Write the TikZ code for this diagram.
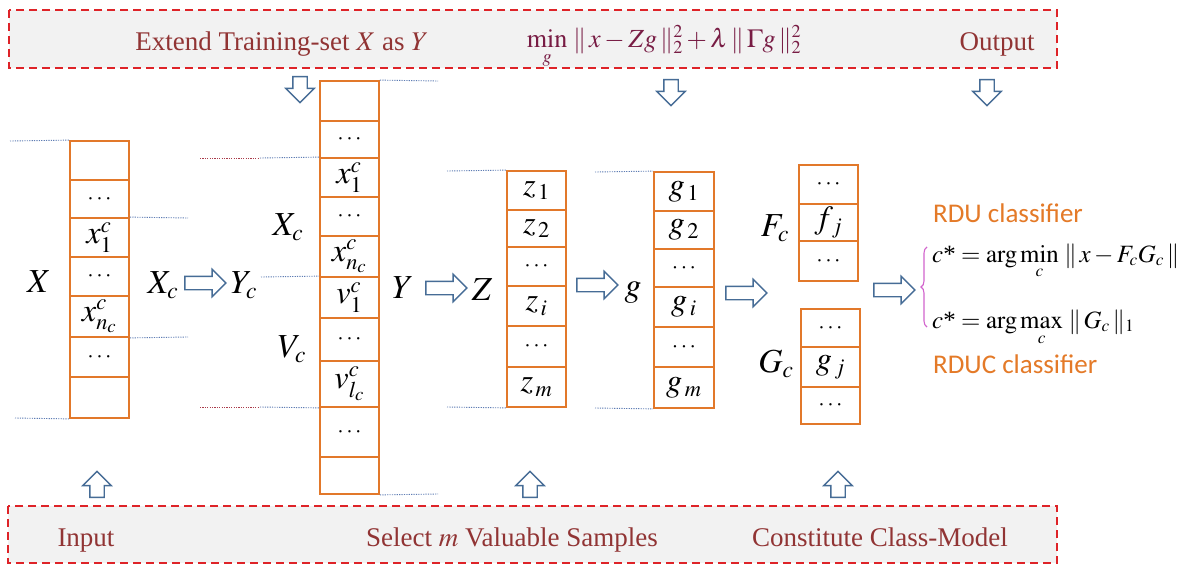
\documentclass[tikz,border=0pt]{standalone}
\usepackage{graphicx}
\usepackage{mathptmx}
\usepackage[no-math]{fontspec}
\setmainfont{Liberation Serif}
\newfontfamily\calibrifont{Carlito}
\usetikzlibrary{shapes.arrows,decorations.pathreplacing}
\definecolor{cellorange}{RGB}{226,120,42}
\definecolor{arrowblue}{RGB}{70,108,150}
\definecolor{dashred}{RGB}{222,35,40}
\definecolor{panelgray}{RGB}{242,242,242}
\definecolor{textbrown}{RGB}{145,52,52}
\definecolor{formulamaroon}{RGB}{120,28,68}
\definecolor{dotblue}{RGB}{95,125,180}
\definecolor{dotred}{RGB}{170,60,75}
\definecolor{bracemagenta}{RGB}{210,100,205}
\definecolor{clsorange}{RGB}{228,122,40}
\newcommand\mkcell[6]{%
  \pgfmathsetmacro\cellw{#4-#2}%
  \pgfmathsetmacro\cellh{#5-#3}%
  \node[cell, minimum width=\cellw pt, minimum height=\cellh pt] (#1) at ({(#2+#4)/2},{(#3+#5)/2}) {#6};%
}
\newcommand\cm[1]{\scalebox{1.3}{$#1$}}
\newcommand\cdts{{\fontsize{23}{26}\selectfont$\cdots$}}
\newcommand\lb[1]{\scalebox{1.35}{$#1$}}
\begin{document}
\begin{tikzpicture}[x=1pt,y=-1pt,
  cell/.style={draw=cellorange, line width=1.8pt, inner sep=0pt, font=\fontsize{24.88}{28}\selectfont},
  lab/.style={inner sep=0pt, font=\fontsize{24.88}{28}\selectfont},
  panel/.style={draw=dashred, fill=panelgray, line width=1.5pt, dash pattern=on 8pt off 5pt},
  paneltext/.style={inner sep=0pt, text=textbrown, font=\fontsize{27}{30}\selectfont},
  hbarrow/.style={single arrow, draw=arrowblue, fill=white, line width=1.4pt, single arrow head extend=7pt, inner sep=6pt, minimum height=41pt},
  vbarrow/.style={single arrow, draw=arrowblue, fill=white, line width=1.4pt, single arrow head extend=7pt, inner sep=6.5pt, minimum height=26pt},
  dotb/.style={draw=dotblue, line width=0.9pt, dash pattern=on 1.2pt off 1.2pt},
  dotr/.style={draw=dotred, line width=0.9pt, dash pattern=on 1.2pt off 1.2pt},
  cls/.style={inner sep=0pt, text=clsorange, font=\calibrifont\fontsize{27}{30}\selectfont},
  rform/.style={inner sep=0pt, font=\fontsize{24.88}{30}\selectfont}
]
\useasboundingbox (0,0) rectangle (1203,565);
\fill[white] (0,0) rectangle (1203,565);

% panels
\draw[panel] (9,10) rectangle (1057,68);
\draw[panel] (8,506) rectangle (1057,563);
\node[paneltext, anchor=base] (tExtend) at (282,50) {Extend Training-set $X$ as $Y$};
\node[inner sep=0pt, anchor=base, text=formulamaroon, font=\fontsize{24.88}{29}\selectfont] (tObj) at (664,47) {\scalebox{1.05}{$\min\limits_g \,\|\, x - Zg \,\|_2^2 + \lambda \,\|\, \Gamma g \,\|_2^2$}};
\node[paneltext, anchor=base] (tOut) at (997,50) {Output};
\node[paneltext, anchor=base] (tIn) at (86,546) {Input};
\node[paneltext, anchor=base] (tSel) at (512,546) {Select $m$ Valuable Samples};
\node[paneltext, anchor=base] (tCon) at (880,546) {Constitute Class-Model};

% vertical block arrows
\node[vbarrow, rotate=-90] (dA) at (300,86) {};
\node[vbarrow, rotate=-90] (dB) at (671,89) {};
\node[vbarrow, rotate=-90] (dC) at (987,89) {};
\node[vbarrow, rotate=90] (uA) at (97,488) {};
\node[vbarrow, rotate=90] (uB) at (530,488) {};
\node[vbarrow, rotate=90] (uC) at (838,488) {};

% X column
\mkcell{X1}{70}{141}{129}{180}{}
\mkcell{X2}{70}{180}{129}{218}{\cdts}
\mkcell{X3}{70}{218}{129}{257}{\cm{x_1^c}}
\mkcell{X4}{70}{257}{129}{296}{\cdts}
\mkcell{X5}{70}{296}{129}{337}{\cm{x_{n_c}^c}}
\mkcell{X6}{70}{337}{129}{377}{\cdts}
\mkcell{X7}{70}{377}{129}{418}{}

% Y column
\mkcell{Y1}{320}{81}{379}{121}{}
\mkcell{Y2}{320}{121}{379}{158}{\cdts}
\mkcell{Y3}{320}{158}{379}{197}{\cm{x_1^c}}
\mkcell{Y4}{320}{197}{379}{236}{\cdts}
\mkcell{Y5}{320}{236}{379}{277}{\cm{x_{n_c}^c}}
\mkcell{Y6}{320}{277}{379}{318}{\cm{v_1^c}}
\mkcell{Y7}{320}{318}{379}{361}{\cdts}
\mkcell{Y8}{320}{361}{379}{407}{\cm{v_{l_c}^c}}
\mkcell{Y9}{320}{407}{379}{457}{\cdts}
\mkcell{Y10}{320}{457}{379}{494}{}

% Z column
\mkcell{Z1}{507}{171}{566}{210}{\cm{z_{\,1}}}
\mkcell{Z2}{507}{210}{566}{247}{\cm{z_{\,2}}}
\mkcell{Z3}{507}{247}{566}{286}{\cdts}
\mkcell{Z4}{507}{286}{566}{326}{\cm{z_{\,i}}}
\mkcell{Z5}{507}{326}{566}{367}{\cdts}
\mkcell{Z6}{507}{367}{566}{407}{\cm{z_{\,m}}}

% g column
\mkcell{G1}{654}{172}{714}{211}{\cm{g_{\,1}}}
\mkcell{G2}{654}{211}{714}{249}{\cm{g_{\,2}}}
\mkcell{G3}{654}{249}{714}{287}{\cdts}
\mkcell{G4}{654}{287}{714}{327}{\cm{g_{\,i}}}
\mkcell{G5}{654}{327}{714}{367}{\cdts}
\mkcell{G6}{654}{367}{714}{408}{\cm{g_{\,m}}}

% F_c column
\mkcell{F1}{799}{165}{858}{204}{\cdts}
\mkcell{F2}{799}{204}{858}{241}{\cm{f_{\,j}}}
\mkcell{F3}{799}{241}{858}{281}{\cdts}

% G_c column
\mkcell{H1}{801}{309}{860}{347}{\cdts}
\mkcell{H2}{801}{347}{860}{387}{\cm{g_{\,j}}}
\mkcell{H3}{801}{387}{860}{424}{\cdts}

% dotted guide lines
\coordinate (pXa) at (10,141);
\coordinate (pXb) at (15,418);
\coordinate (pXc) at (188,218);
\coordinate (pXd) at (188,337);
\draw[dotb] (pXa) -- (X1.north west);
\draw[dotb] (pXb) -- (X7.south west);
\draw[dotb] (X3.north east) -- (pXc);
\draw[dotb] (X5.south east) -- (pXd);
\coordinate (pYa) at (200,158);
\coordinate (pYam) at (260,158);
\coordinate (pYb) at (200,407);
\coordinate (pYbm) at (260,407);
\coordinate (pYc) at (261,277);
\draw[dotr] (pYa) -- (pYam);
\draw[dotb] (pYam) -- (Y3.north west);
\draw[dotr] (pYb) -- (pYbm);
\draw[dotb] (pYbm) -- (Y8.south west);
\draw[dotb] (pYc) -- (Y6.north west);
\coordinate (pYd) at (438,81);
\coordinate (pYe) at (438,494);
\draw[dotb] (Y1.north east) -- (pYd);
\draw[dotb] (Y10.south east) -- (pYe);
\coordinate (pZa) at (447,171);
\coordinate (pZb) at (447,407);
\draw[dotb] (pZa) -- (Z1.north west);
\draw[dotb] (pZb) -- (Z6.south west);
\coordinate (pGa) at (595,172);
\coordinate (pGb) at (595,408);
\draw[dotb] (pGa) -- (G1.north west);
\draw[dotb] (pGb) -- (G6.south west);

% labels
\node[lab] (lX) at (39,282) {\lb{X}};
\node[lab] (lXc) at (163,285) {\lb{X_c}};
\node[lab] (lYc) at (244,285) {\lb{Y_c}};
\node[lab] (lXc2) at (288,227) {\lb{X_c}};
\node[lab] (lVc) at (292,349) {\lb{V_c}};
\node[lab] (lY) at (403,288) {\lb{Y}};
\node[lab] (lZ) at (482,290) {\lb{Z}};
\node[lab] (lg) at (633,293) {\lb{g}};
\node[lab] (lFc) at (775,228) {\lb{F_c}};
\node[lab] (lGc) at (776,364) {\lb{G_c}};

% horizontal block arrows
\node[hbarrow] (aXY) at (202,283) {};
\node[hbarrow] (aYZ) at (443,288) {};
\node[hbarrow] (aZg) at (594,285) {};
\node[hbarrow] (agF) at (743,293) {};
\node[hbarrow] (aFC) at (891,290) {};

% classifiers
\draw[bracemagenta, line width=1.1pt, decorate, decoration={brace, amplitude=6pt}] (927,327) -- (927,247);
\node[cls, anchor=base west] (cRDU) at (933,222) {RDU classifier};
\node[rform, anchor=base west] (fRDU) at (932,262) {$c\mbox{*} = \arg\min\limits_c \,\|\, x - F_c G_c \,\|$};
\node[rform, anchor=base west] (fRDUC) at (932,328) {$c\mbox{*} = \arg\max\limits_c \,\|\, G_c \,\|_1$};
\node[cls, anchor=base west] (cRDUC) at (933,373) {RDUC classifier};
\end{tikzpicture}
\end{document}
